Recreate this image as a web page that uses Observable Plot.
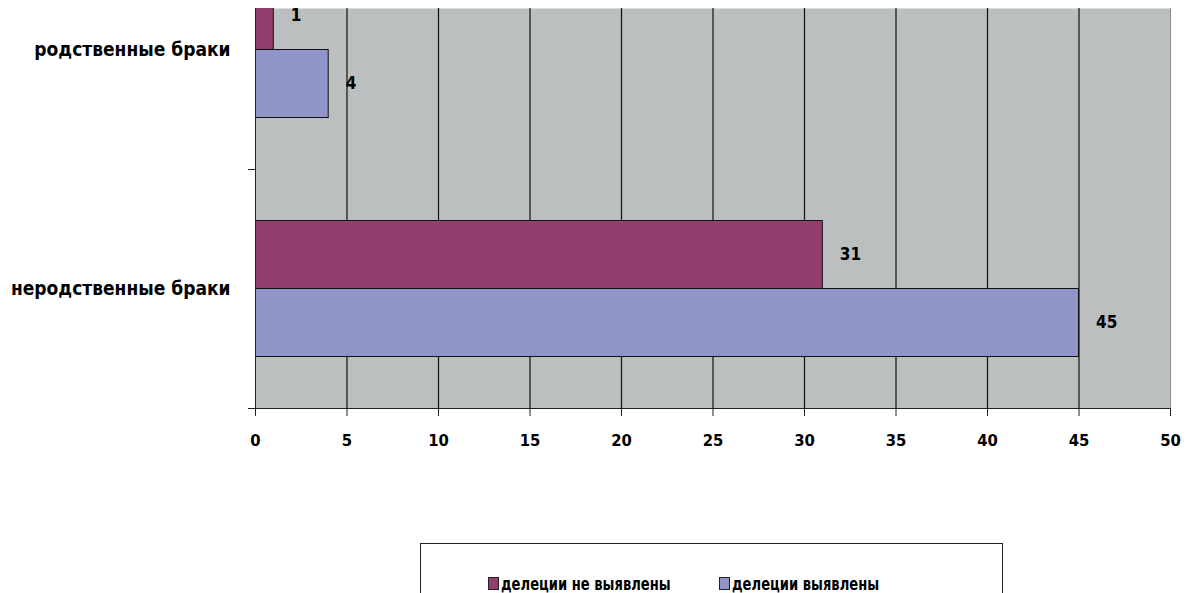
<!DOCTYPE html>
<html>
<head>
<meta charset="utf-8">
<script src="https://cdn.jsdelivr.net/npm/d3@7"></script>
<script src="https://cdn.jsdelivr.net/npm/@observablehq/plot@0.6"></script>
<style>
  html, body { margin: 0; padding: 0; background: #fff; overflow: hidden; }
  #wrap { position: relative; width: 1189px; height: 593px; }
  #chart { position: absolute; left: 0; top: 0; }
  #chart svg { font-family: "DejaVu Sans Condensed", "DejaVu Sans", sans-serif; }
  #chart svg [aria-label="x-axis tick label"] text,
  #chart svg [aria-label="x-axis tick label"] { font-weight: bold; font-size: 16.5px; }
  #chart svg [aria-label="y-axis tick label"] text,
  #chart svg [aria-label="y-axis tick label"] { font-weight: bold; font-size: 19px; }
  #legend {
    position: absolute; left: 420px; top: 543px; width: 583px; height: 90px;
    border: 1px solid #222; background: #fff; box-sizing: border-box;
    font-family: "DejaVu Sans Condensed", "DejaVu Sans", sans-serif; font-size: 14.6px; font-weight: bold; color: #000;
  }
  .item { position: absolute; top: 31px; display: flex; align-items: center; white-space: nowrap; }
  .item span { display: inline-block; transform: scaleY(1.22); transform-origin: 50% 60%; }
  .sw { width: 9px; height: 11px; border: 1px solid #222; margin-right: 2px; }
</style>
</head>
<body>
<div id="wrap">
  <div id="chart"></div>
  <div id="legend"></div>
</div>
<script>
const categories = ["родственные браки", "неродственные браки"];
const seriesNames = ["делеции не выявлены", "делеции выявлены"];
const notDetected = [1, 31];
const detected = [4, 45];
const xTicks = [0, 5, 10, 15, 20, 25, 30, 35, 40, 45, 50];
const colors = ["#943E6E", "#9094C9"];

const rowsA = categories.map((c, i) => ({cat: c, series: seriesNames[0], value: notDetected[i]}));
const rowsB = categories.map((c, i) => ({cat: c, series: seriesNames[1], value: detected[i]}));

const chart = Plot.plot({
  width: 1189,
  height: 470,
  marginLeft: 255,
  marginRight: 19,
  marginTop: 8,
  marginBottom: 62,
  style: {background: "transparent", overflow: "visible"},
  x: {domain: [0, 50], ticks: xTicks, label: null},
  y: {domain: categories, range: [-70, 408], padding: 0, label: null},
  marks: [
    Plot.frame({fill: "#BCBFBF", stroke: null}),
    Plot.ruleX(xTicks.filter(t => t > 0 && t < 50), {stroke: "#111", strokeWidth: 1.2}),
    Plot.ruleX([50], {stroke: "#8c8c8c", strokeWidth: 1}),
    Plot.barX(rowsA, {x: "value", y: "cat", fill: colors[0], stroke: "#111", strokeWidth: 1, insetTop: 51.5, insetBottom: 119.5, clip: "frame"}),
    Plot.barX(rowsB, {x: "value", y: "cat", fill: colors[1], stroke: "#111", strokeWidth: 1, insetTop: 119.5, insetBottom: 51.5, clip: "frame"}),
    Plot.text(rowsA, {x: "value", y: "cat", text: d => String(d.value), dx: 17, dy: -34, textAnchor: "start", fontSize: 17, fontWeight: "bold", fill: "#000", clip: "frame"}),
    Plot.text(rowsB, {x: "value", y: "cat", text: d => String(d.value), dx: 17, dy: 34, textAnchor: "start", fontSize: 17, fontWeight: "bold", fill: "#000", clip: "frame"}),
    Plot.ruleX([0], {stroke: "#222", strokeWidth: 1}),
    Plot.ruleY([categories[1]], {y: d => d, dy: 119.5, x1: 0, x2: 50, insetLeft: -7, stroke: "#222", strokeWidth: 1}),
    Plot.ruleY([categories[0]], {y: d => d, dy: 119.5, x1: 0, x2: 0, insetLeft: -7, stroke: "#222", strokeWidth: 1}),
    Plot.axisX({ticks: xTicks, tickSize: 8, tickPadding: 18, stroke: "#222", fill: "#000"}),
    Plot.axisY({tickSize: 0, tickPadding: 25, fill: "#000"})
  ]
});
document.getElementById("chart").appendChild(chart);

const legend = document.getElementById("legend");
const lefts = [67, 298];
seriesNames.forEach((name, i) => {
  const item = document.createElement("div");
  item.className = "item";
  item.style.left = lefts[i] + "px";
  const sw = document.createElement("div");
  sw.className = "sw";
  sw.style.background = colors[i];
  const t = document.createElement("span");
  t.textContent = name;
  item.appendChild(sw);
  item.appendChild(t);
  legend.appendChild(item);
});
</script>
</body>
</html>
